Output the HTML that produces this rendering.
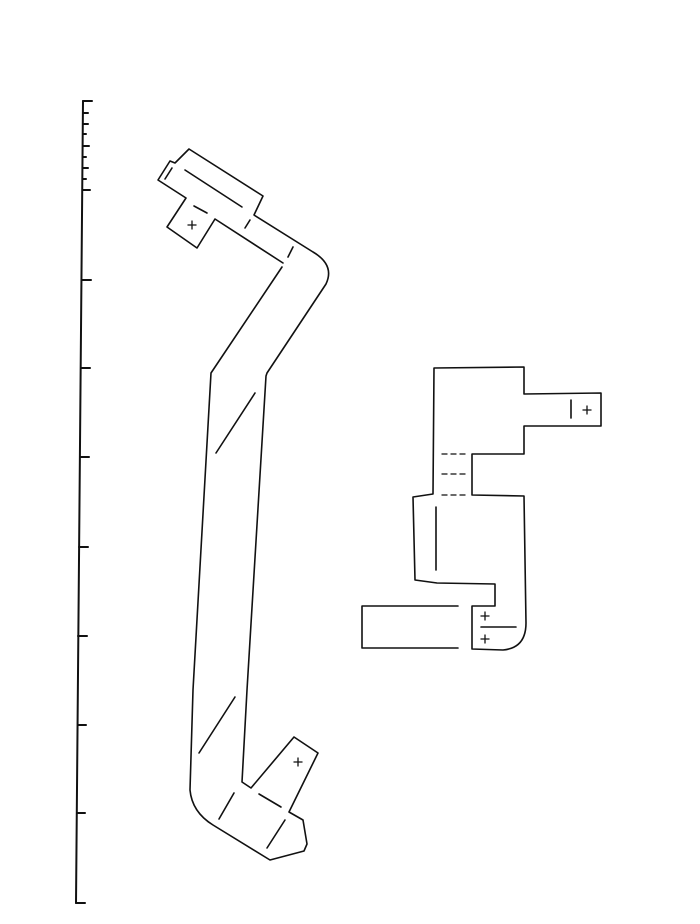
<!DOCTYPE html>
<html><head><meta charset="utf-8"><style>html,body{margin:0;padding:0;background:#fff;}svg{display:block}</style></head>
<body>
<svg width="700" height="924" viewBox="0 0 700 924" xmlns="http://www.w3.org/2000/svg" fill="none" stroke="#111" stroke-width="1.6" stroke-linejoin="round" stroke-linecap="round">
<!-- axis -->
<line x1="83" y1="101" x2="76" y2="903" stroke-width="2"/>
<g stroke-width="2">
<line x1="83" y1="101" x2="92" y2="101"/>
<line x1="83" y1="113" x2="88" y2="113"/>
<line x1="83" y1="124" x2="88" y2="124"/>
<line x1="83" y1="134" x2="86" y2="134"/>
<line x1="83" y1="146" x2="89" y2="146"/>
<line x1="83" y1="157" x2="86" y2="157"/>
<line x1="83" y1="168" x2="88" y2="168"/>
<line x1="83" y1="179" x2="86" y2="179"/>
<line x1="83" y1="190" x2="90" y2="190"/>
<line x1="82" y1="280" x2="91" y2="280"/>
<line x1="81" y1="368" x2="90" y2="368"/>
<line x1="80" y1="457" x2="89" y2="457"/>
<line x1="79" y1="547" x2="88" y2="547"/>
<line x1="78" y1="636" x2="87" y2="636"/>
<line x1="78" y1="725" x2="86" y2="725"/>
<line x1="77" y1="813" x2="85" y2="813"/>
<line x1="76" y1="903" x2="85" y2="903"/>
</g>
<!-- left figure -->
<path d="M283,263 L215,219 L197,248 L167,227 L186,198 L158,180 L170,161 L175,163 L189,149 L263,196 L254,215 L313,252 Q335,265 326,284 L267,373 L266,376 L247,690 L242,782 L251,788 L294,737 L318,753 L289,812 L303,820 L307,844 L304,851 L270,860 L213,825 Q192,812 190,790 L193,690 L211,373 L282,267"/>
<line x1="185" y1="170" x2="242" y2="207"/>
<line x1="165" y1="179" x2="172" y2="168"/>
<line x1="194" y1="206" x2="207" y2="213"/>
<line x1="245" y1="228" x2="250" y2="220"/>
<line x1="288" y1="257" x2="293" y2="247"/>
<line x1="255" y1="393" x2="216" y2="453"/>
<line x1="235" y1="697" x2="199" y2="753"/>
<line x1="234" y1="793" x2="219" y2="819"/>
<line x1="259" y1="794" x2="281" y2="807"/>
<line x1="285" y1="820" x2="267" y2="848"/>
<g stroke-width="1.3">
<line x1="188" y1="225" x2="196" y2="225"/><line x1="192" y1="221" x2="192" y2="229"/>
<line x1="294" y1="762" x2="302" y2="762"/><line x1="298" y1="758" x2="298" y2="766"/>
</g>
<!-- right figure -->
<path d="M434,368 L524,367 L524,394 L601,393 L601,426 L524,426 L524,454 L472,454 L472,495 L524,496 L526,623 Q526,648 503,650 L472,649 L472,606 L495,606 L495,584 L437,583 L415,580 L413,497 L433,494 L434,368"/>
<path d="M458,606 L362,606 L362,648 L458,648"/>
<g stroke-dasharray="5,4" stroke-width="1.3">
<line x1="442" y1="454" x2="468" y2="454"/>
<line x1="442" y1="474" x2="468" y2="474"/>
<line x1="442" y1="495" x2="468" y2="495"/>
</g>
<line x1="436" y1="507" x2="436" y2="570"/>
<line x1="571" y1="400" x2="571" y2="418"/>
<line x1="481" y1="627" x2="516" y2="627"/>
<g stroke-width="1.3">
<line x1="583" y1="410" x2="591" y2="410"/><line x1="587" y1="406" x2="587" y2="414"/>
<line x1="481" y1="616" x2="489" y2="616"/><line x1="485" y1="612" x2="485" y2="620"/>
<line x1="481" y1="639" x2="489" y2="639"/><line x1="485" y1="635" x2="485" y2="643"/>
</g>
</svg>
</body></html>
